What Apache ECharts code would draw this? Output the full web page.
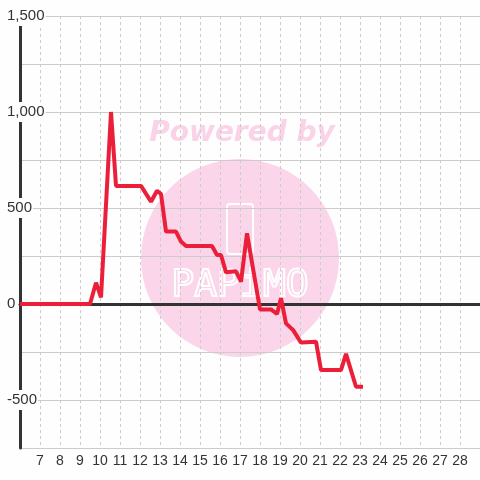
<!DOCTYPE html>
<html>
<head>
<meta charset="utf-8">
<script src="https://cdn.jsdelivr.net/npm/echarts@6/dist/echarts.min.js"></script>
<style>
  html, body { margin: 0; padding: 0; background: #fdfefd; }
  #chart { width: 480px; height: 480px; }
</style>
</head>
<body>
<div id="chart"></div>
<script>
// data (x = day, y = value)
var days = [6, 9.5, 9.8, 10.05, 10.55, 10.8, 12.05, 12.55, 12.85, 13.05, 13.3, 13.8, 14.05, 14.3, 15.6, 15.85, 16.05, 16.3, 16.8, 17.05, 17.35, 18.0, 18.55, 18.85, 19.05, 19.3, 19.65, 20.05, 20.8, 21.05, 22.05, 22.3, 22.8, 23.15];
var values = [0, 0, 111, 35, 1000, 615, 615, 533, 590, 573, 377, 377, 325, 302, 302, 255, 255, 165, 170, 116, 368, -28, -28, -52, 30, -101, -135, -201, -196, -344, -344, -260, -431, -431];
var yLabels = [-500, 0, 500, 1000, 1500];

var points = days.map(function(d, i){ return [d, values[i]]; });

var chart = echarts.init(document.getElementById('chart'));

var option = {
    backgroundColor: '#fdfefd',
    animation: false,
    grid: { left: 20, right: 0, top: 16, bottom: 32, containLabel: false },

    // watermark
    graphic: [
        { type: 'circle', z: -10, silent: true, shape: { cx: 240, cy: 258, r: 99 }, style: { fill: '#fbd5ea' } },
        { type: 'text', z: -10, silent: true, x: 242, y: 134,
          style: { text: 'Powered by', fill: '#fbd3e8', font: 'italic bold 28px "DejaVu Sans"', align: 'center', verticalAlign: 'middle' } },
        { type: 'rect', z: -9, silent: true, shape: { x: 227, y: 204, width: 26, height: 50, r: 3 },
          style: { fill: 'none', stroke: '#ffffff', lineWidth: 2 } },
        { type: 'text', z: -9, silent: true, x: 240, y: 286,
          style: { text: 'PAPiMO', fill: 'none', stroke: '#ffffff', lineWidth: 2, font: '38px "DejaVu Sans Mono"', align: 'center', verticalAlign: 'middle' } }
    ],

    xAxis: [
        {
            type: 'value', min: 6, max: 29, interval: 1, position: 'bottom',
            axisLine: { show: false, onZero: false },
            axisTick: { show: false },
            axisLabel: { showMinLabel: false, showMaxLabel: false, margin: 6, color: '#333', fontSize: 14, fontFamily: 'Liberation Sans' },
            splitLine: { show: true, lineStyle: { color: '#cccccc', type: [3, 3], width: 1 } }
        },
        {
            // zero line
            type: 'value', min: 6, max: 29, interval: 1, position: 'bottom',
            axisLine: { show: true, onZero: true, lineStyle: { color: '#333', width: 3 } },
            axisTick: { show: false },
            axisLabel: { show: false },
            splitLine: { show: false }
        }
    ],

    yAxis: {
        type: 'value', min: -750, max: 1500, interval: 250,
        axisLine: { show: true, onZero: false, lineStyle: { color: '#333', width: 3 } },
        axisTick: { show: false },
        splitLine: { show: true, lineStyle: { color: '#cccccc', width: 1 } },
        axisLabel: {
            customValues: yLabels,
            align: 'left',
            margin: 14,
            color: '#333',
            fontSize: 15,
            fontFamily: 'Liberation Sans',
            backgroundColor: '#fdfefd',
            padding: [5, 1, 0, 1],
            formatter: function(v){ return v.toLocaleString('en-US'); }
        }
    },

    series: [
        {
            type: 'line',
            xAxisIndex: 0,
            data: points,
            showSymbol: false,
            symbol: 'none',
            z: 3,
            lineStyle: { color: '#ec1f3a', width: 4 }
        }
    ]
};

chart.setOption(option);
</script>
</body>
</html>
